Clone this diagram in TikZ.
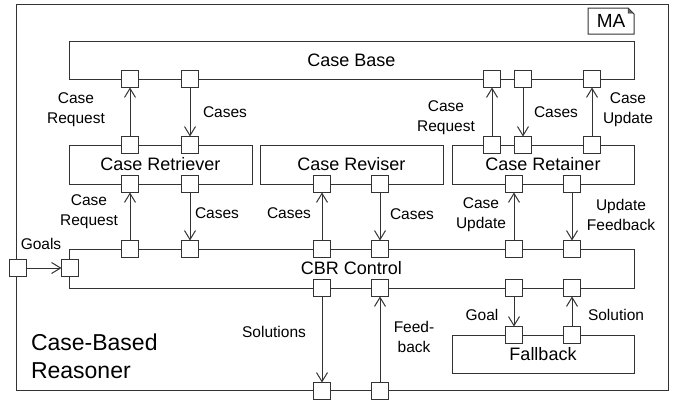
\documentclass[tikz,border=0pt]{standalone}
\usepackage{fontspec}
\setmainfont{Liberation Sans}
\usetikzlibrary{arrows.meta}
\begin{document}
\begin{tikzpicture}[x=1pt,y=-1pt,
  line width=1pt,
  every node/.style={inner sep=0pt,outer sep=0pt},
  box/.style={draw=black!80,rectangle,font=\fontsize{18}{20}\selectfont},
  port/.style={draw=black!80,fill=white,rectangle,minimum size=17pt},
  lbl/.style={align=center,font=\fontsize{15.5}{20}\selectfont},
  flow/.style={draw=black!80,-{Straight Barb[length=9pt,width=11pt,line width=1pt]}}
]
\useasboundingbox (0,0) rectangle (674,402);
% boxes
\node[box,minimum width=652pt,minimum height=386pt] (cbr) at (342,197) {};
\node[box,minimum width=565pt,minimum height=38pt] (casebase) at (351.5,60) {Case Base};
\node[box,minimum width=183pt,minimum height=39pt] (retriever) at (160.5,164.5) {Case Retriever};
\node[box,minimum width=183pt,minimum height=39pt] (reviser) at (351.5,164.5) {Case Reviser};
\node[box,minimum width=182pt,minimum height=39pt] (retainer) at (543,164.5) {Case Retainer};
\node[box,minimum width=565pt,minimum height=39pt] (control) at (351.5,268.5) {CBR Control};
\node[box,minimum width=182pt,minimum height=38pt] (fallback) at (543,354) {Fallback};
% MA tag
\node[font=\fontsize{19}{20}\selectfont] (ma) at (611,21) {MA};
\draw[black!80] (588,8) -- (628,8) -- (634,14) -- (634,34) -- (588,34) -- cycle;
\draw[black!80,fill=black!60,line width=0.5pt] (628,8) -- (628,13) -- (633,13) -- cycle;
% ports
\foreach \n/\x in {1/130,2/190,3/492,4/523,5/592} \node[port] (cb\n) at (\x,79) {};
\foreach \n/\x in {1/130,2/190} {\node[port] (rtt\n) at (\x,145) {}; \node[port] (rtb\n) at (\x,184) {};}
\foreach \n/\x in {1/322,2/380} \node[port] (rvb\n) at (\x,184) {};
\foreach \n/\x in {1/492,2/523,3/592} \node[port] (rnt\n) at (\x,145) {};
\foreach \n/\x in {1/514,2/572} \node[port] (rnb\n) at (\x,184) {};
\foreach \n/\x in {1/130,2/190,3/322,4/380,5/514,6/572} \node[port] (ct\n) at (\x,249) {};
\foreach \n/\x in {1/322,2/380,3/514,4/572} \node[port] (cbt\n) at (\x,288) {};
\node[port] (cl) at (70,268) {};
\foreach \n/\x in {1/514,2/572} \node[port] (fb\n) at (\x,335) {};
\node[port] (ol) at (17.5,268) {};
\foreach \n/\x in {1/322,2/380} \node[port] (ob\n) at (\x,391) {};
% connectors
\draw[flow] (rtt1) -- (cb1);
\draw[flow] (cb2) -- (rtt2);
\draw[flow] (rnt1) -- (cb3);
\draw[flow] (cb4) -- (rnt2);
\draw[flow] (rnt3) -- (cb5);
\draw[flow] (ct1) -- (rtb1);
\draw[flow] (rtb2) -- (ct2);
\draw[flow] (ct3) -- (rvb1);
\draw[flow] (rvb2) -- (ct4);
\draw[flow] (ct5) -- (rnb1);
\draw[flow] (rnb2) -- (ct6);
\draw[flow] (ol) -- (cl);
\draw[flow] (cbt1) -- (ob1);
\draw[flow] (ob2) -- (cbt2);
\draw[flow] (cbt3) -- (fb1);
\draw[flow] (fb2) -- (cbt4);
% labels
\node[lbl] (l1) at (76,110) {Case\\Request};
\node[lbl] (l2) at (225,112) {Cases};
\node[lbl] (l3) at (446,118) {Case\\Request};
\node[lbl] (l4) at (556,112) {Cases};
\node[lbl] (l5) at (628,110) {Case\\Update};
\node[lbl] (l6) at (89,212) {Case\\Request};
\node[lbl] (l7) at (217,213) {Cases};
\node[lbl] (l8) at (289,213) {Cases};
\node[lbl] (l9) at (412,214) {Cases};
\node[lbl] (l10) at (481,215) {Case\\Update};
\node[lbl] (l11) at (621,215) {Update\\Feedback};
\node[lbl] (l12) at (41,244) {Goals};
\node[lbl] (l13) at (274,332) {Solutions};
\node[lbl] (l14) at (414,337) {Feed-\\back};
\node[lbl] (l15) at (482,315) {Goal};
\node[lbl] (l16) at (616,315) {Solution};
\node[align=left,anchor=west,font=\fontsize{23}{28}\selectfont] (title) at (31,356) {Case-Based\\Reasoner};
\end{tikzpicture}
\end{document}
